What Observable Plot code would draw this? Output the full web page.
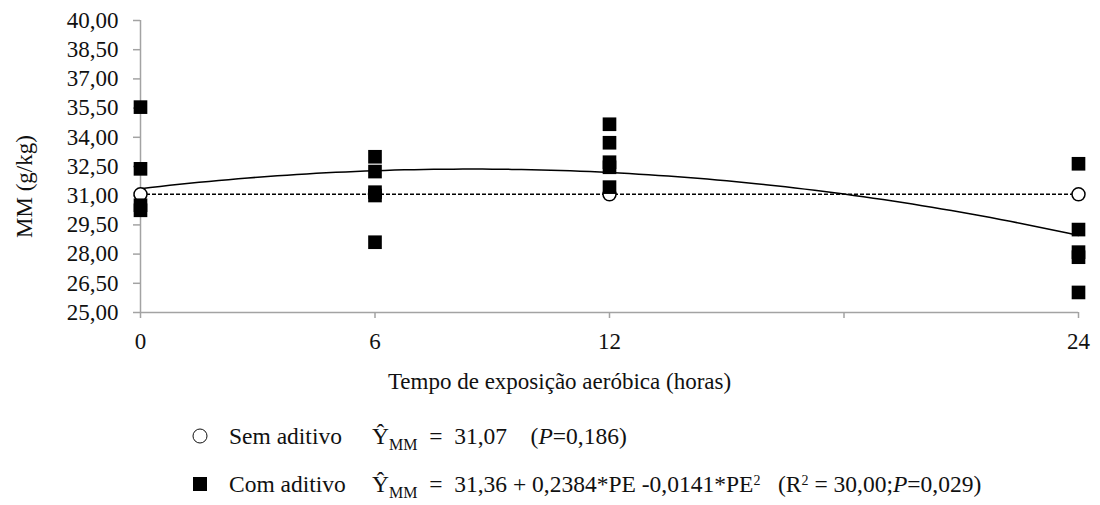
<!DOCTYPE html>
<html>
<head>
<meta charset="utf-8">
<script src="https://cdn.jsdelivr.net/npm/d3@7"></script>
<script src="https://cdn.jsdelivr.net/npm/@observablehq/plot@0.6"></script>
<style>
  html, body { margin: 0; padding: 0; background: #fff; }
  .serif { font-family: "Liberation Serif", Tinos, "Times New Roman", "DejaVu Serif", serif; }
  #chart { width: 1100px; color: #111; }
  #legend { position: relative; width: 1100px; height: 105px; font-size: 23.5px; color: #111; }
  #legend .row { position: absolute; left: 0; width: 1100px; height: 30px; }
  #legend .sym { position: absolute; top: 50%; transform: translate(-50%, -50%); box-sizing: border-box; }
  #legend .circ { width: 15px; height: 15px; border: 1.5px solid #111; border-radius: 50%; background: #fff; }
  #legend .sq { width: 14px; height: 14px; background: #000; }
  #legend .txt { position: absolute; top: 0; line-height: 30px; white-space: pre; }
  #legend sub { font-size: 16px; vertical-align: -6px; line-height: 0; }
  #legend sup { font-size: 14px; vertical-align: 7px; line-height: 0; }
</style>
</head>
<body>
<div id="chart" class="serif"></div>
<div id="legend" class="serif">
  <div class="row" style="top:21px">
    <div class="sym circ" style="left:200px"></div>
    <div class="txt" style="left:229px">Sem aditivo</div>
    <div class="txt" style="left:372px">Ŷ<sub>MM</sub>  =  31,07    (<i>P</i>=0,186)</div>
  </div>
  <div class="row" style="top:69px">
    <div class="sym sq" style="left:200px"></div>
    <div class="txt" style="left:229px">Com aditivo</div>
    <div class="txt" style="left:372px">Ŷ<sub>MM</sub>  =  31,36 + 0,2384*PE -0,0141*PE<sup>2</sup>   (R<sup>2</sup> = 30,00;<i>P</i>=0,029)</div>
  </div>
</div>
<script>
// Aerobic exposure time (hours) and mineral matter (g/kg)
const hours = [0, 6, 12, 24];
const semMean = 31.07;                       // Sem aditivo: constant model
const comHours = [0, 0, 0, 0, 6, 6, 6, 6, 6, 12, 12, 12, 12, 12, 24, 24, 24, 24, 24];
const comValues = [35.55, 32.38, 30.51, 30.25,
                   33.00, 32.24, 31.18, 31.01, 28.61,
                   34.67, 33.72, 32.72, 32.46, 31.44,
                   32.64, 29.26, 28.10, 27.84, 26.03];
const comCoef = [31.36, 0.2384, -0.0141];    // Com aditivo: quadratic model
const yTicks = [25, 26.5, 28, 29.5, 31, 32.5, 34, 35.5, 37, 38.5, 40];
const xTicks = [0, 6, 12, 18, 24];
const xTickLabels = ["0", "6", "12", "", "24"];
const xTitle = "Tempo de exposição aeróbica (horas)";
const yTitle = "MM (g/kg)";

const semPoints = hours.map(h => ({h, v: semMean}));
const comPoints = comHours.map((h, i) => ({h, v: comValues[i]}));
const curveX = d3.range(0, 24.001, 0.25);
const curve = curveX.map(h => ({h, v: comCoef[0] + comCoef[1] * h + comCoef[2] * h * h}));
const fmt = d => d3.format(".2f")(d).replace(".", ",");
const axisGray = "#a3a3a3";
const serifStack = "'Liberation Serif', Tinos, 'Times New Roman', 'DejaVu Serif', serif";

const chart = Plot.plot({
  width: 1100,
  height: 400,
  marginLeft: 140,
  marginRight: 22,
  marginTop: 20,
  marginBottom: 88,
  style: {fontFamily: serifStack, fontSize: "23px", color: "#111", background: "#fff"},
  x: {domain: [0, 24]},
  y: {domain: [25, 40]},
  marks: [
    Plot.axisY({ticks: yTicks, tickFormat: fmt, tickSize: 7, tickPadding: 15, stroke: axisGray, strokeWidth: 1.5, label: null}),
    Plot.axisX({ticks: xTicks, tickFormat: d => xTickLabels[xTicks.indexOf(d)], tickSize: 6, tickPadding: 14, stroke: axisGray, strokeWidth: 1.5, label: null}),
    Plot.ruleX([0], {y1: 25, y2: 40, stroke: axisGray, strokeWidth: 1.5}),
    Plot.ruleY([25], {x1: 0, x2: 24, stroke: axisGray, strokeWidth: 1.5}),
    Plot.ruleY([semMean], {x1: 0, x2: 24, stroke: "#000", strokeWidth: 1.5, strokeDasharray: "4,2"}),
    Plot.line(curve, {x: "h", y: "v", stroke: "#000", strokeWidth: 1.5, curve: "linear"}),
    Plot.dot(semPoints, {x: "h", y: "v", r: 6.5, stroke: "#000", strokeWidth: 1.5, fill: "#fff"}),
    Plot.dot(comPoints, {x: "h", y: "v", symbol: "square", r: 7.7, fill: "#000", stroke: "none"}),
    Plot.text([xTitle], {frameAnchor: "bottom", lineAnchor: "middle", textAnchor: "middle", dx: -50, dy: 69, fill: "#111", fontSize: 23}),
    Plot.text([yTitle], {frameAnchor: "left", lineAnchor: "middle", textAnchor: "middle", rotate: -90, dx: -116, dy: 20, fill: "#111", fontSize: 23})
  ]
});
document.getElementById("chart").appendChild(chart);
</script>
</body>
</html>
